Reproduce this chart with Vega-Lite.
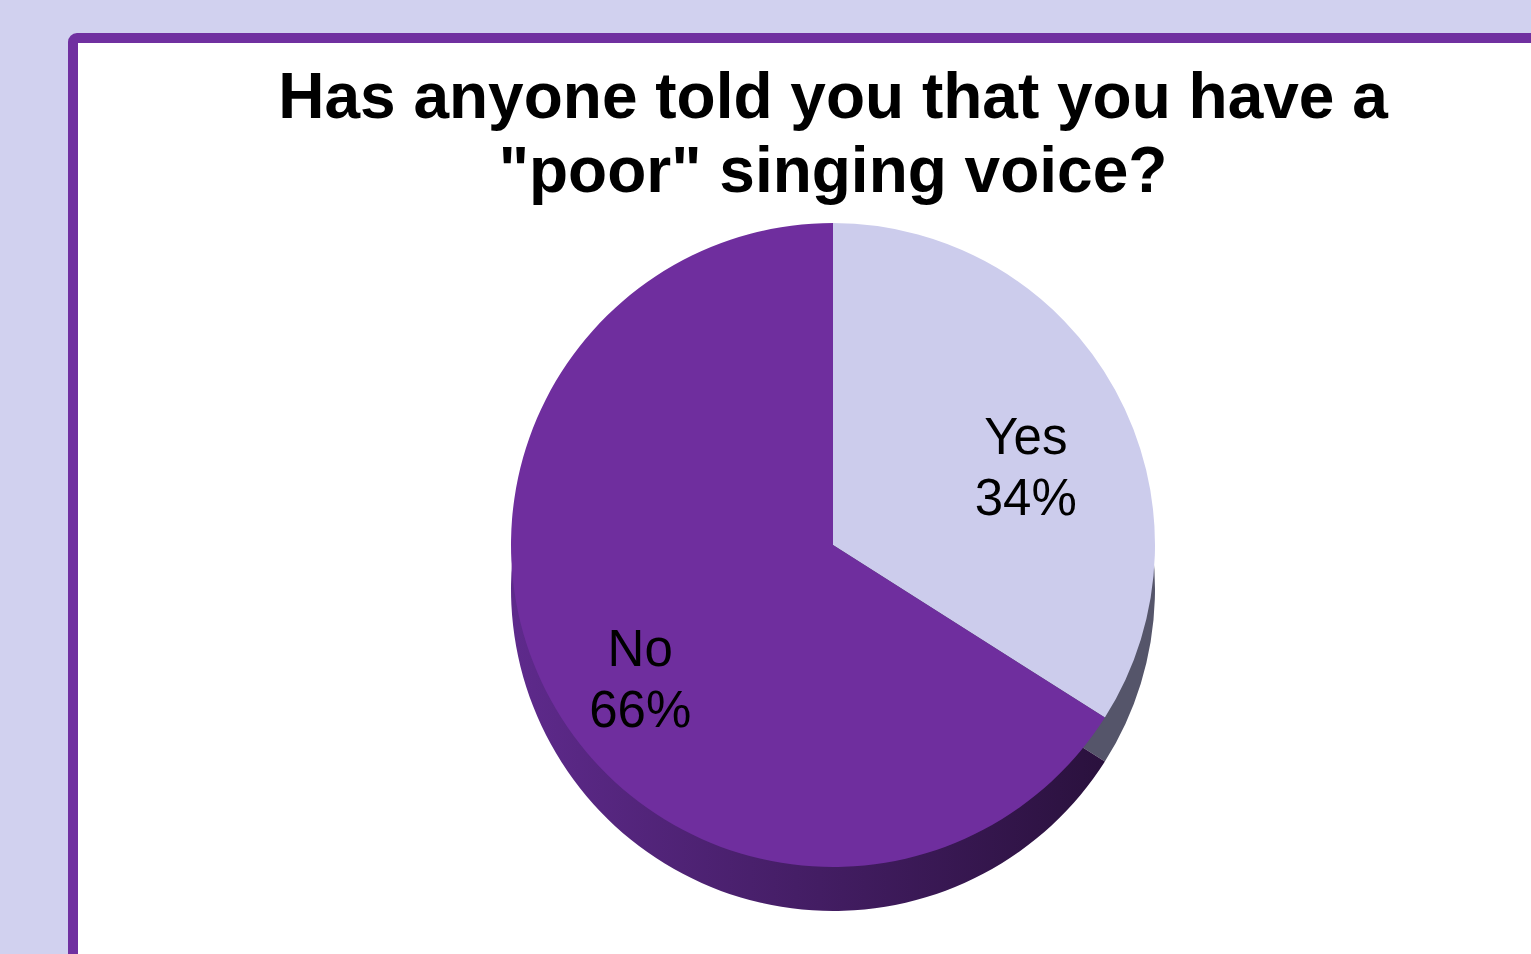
{
  "$schema": "https://vega.github.io/schema/vega-lite/v6.json",
  "autosize": {"type": "none"},
  "padding": {"left": 73, "top": 38, "right": 0, "bottom": 0},
  "width": 1520,
  "height": 1014,
  "background": "#D1D1EF",
  "config": {
    "view": {"stroke": null},
    "font": "Liberation Sans"
  },
  "title": {
    "text": ["Has anyone told you that you have a", "\"poor\" singing voice?"],
    "font": "Liberation Sans",
    "fontSize": 64,
    "fontWeight": "bold",
    "color": "#000000",
    "anchor": "middle",
    "frame": "group",
    "lineHeight": 74,
    "offset": -172
  },
  "layer": [
    {
      "data": {"values": [{"panel": "frame"}]},
      "mark": {"type": "rect", "fill": "#FFFFFF", "stroke": "#7030A0", "strokeWidth": 10, "cornerRadius": 4},
      "encoding": {}
    },
    {
      "data": {
        "values": [
          {"answer": "Yes", "pct": 34, "label": "Yes\n34%"},
          {"answer": "No", "pct": 66, "label": "No\n66%"}
        ]
      },
      "encoding": {
        "theta": {"field": "pct", "type": "quantitative", "stack": true},
        "order": {"field": "pct", "type": "quantitative", "sort": "ascending"}
      },
      "layer": [
        {
          "mark": {"type": "arc", "radius": 322, "yOffset": 44},
          "encoding": {
            "color": {
              "condition": {
                "test": "datum.answer === 'No'",
                "value": {
                  "gradient": "linear",
                  "x1": 0, "y1": 0, "x2": 1, "y2": 0,
                  "stops": [
                    {"offset": 0, "color": "#5E2A8C"},
                    {"offset": 1, "color": "#2A113D"}
                  ]
                }
              },
              "value": "#55556A"
            }
          }
        },
        {
          "mark": {"type": "arc", "radius": 322},
          "encoding": {
            "color": {
              "field": "answer",
              "type": "nominal",
              "scale": {"domain": ["Yes", "No"], "range": ["#CCCCEC", "#6F2E9E"]},
              "legend": null
            }
          }
        },
        {
          "mark": {"type": "text", "radius": 220, "fontSize": 51, "lineHeight": 61, "lineBreak": "\n", "color": "#000000", "font": "Liberation Sans"},
          "encoding": {
            "text": {"field": "label", "type": "nominal"}
          }
        }
      ]
    }
  ]
}
